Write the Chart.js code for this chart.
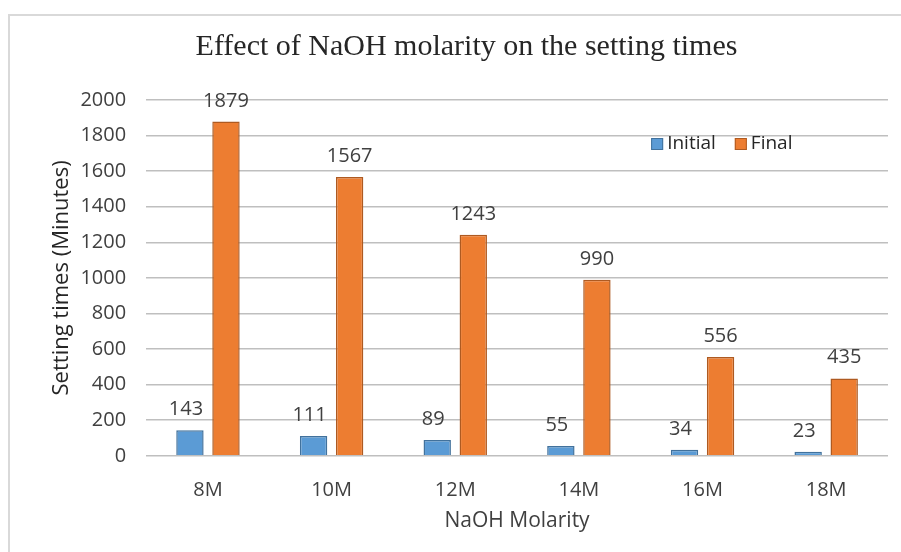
<!DOCTYPE html>
<html lang="en">
<head>
	<meta charset="UTF-8">
	<title>setting times</title>
	<script src="https://cdn.jsdelivr.net/npm/chart.js@4.4.1/dist/chart.umd.min.js"></script>
	<style>
		html,body{margin:0;padding:0;background:#fff;}
		#frame{position:absolute;left:8px;top:14px;width:900px;height:545px;border:2px solid #d9d9d9;box-sizing:border-box;}
		#wrap{position:absolute;left:0;top:0;width:901px;height:552px;}
	</style>
</head>
<body>
	<div id="frame"></div>
	<div id="wrap"><canvas id="chart" width="901" height="552"></canvas></div>

	<script>

		var categories=["8M","10M","12M","14M","16M","18M"];
		var initialTimes=[143,111,89,55,34,23];
		var finalTimes=[1879,1567,1243,990,556,435];
		var seriesNames=["Initial","Final"];

		var sans="'Open Sans', 'Noto Sans', sans-serif";

		// value labels above each bar
		var barLabels={
			id:"barLabels",
			afterDatasetsDraw:function(chart){
				var ctx=chart.ctx;
				ctx.save();
				ctx.font="20px "+sans;
				ctx.fillStyle="#404040";
				ctx.textAlign="center";
				ctx.textBaseline="alphabetic";
				chart.data.datasets.forEach(function(ds,di){
					var meta=chart.getDatasetMeta(di);
					meta.data.forEach(function(bar,i){
						var x=bar.x-(di==0 ? 4 : 0);
						ctx.fillText(ds.data[i],x,bar.y-15);
					});
				});
				ctx.restore();
			}
		};

		// legend inside the plot, top right
		var innerLegend={
			id:"innerLegend",
			afterDraw:function(chart){
				var ctx=chart.ctx,
					area=chart.chartArea;
				var x=area.left+505,
					y=area.top+44;
				ctx.save();
				ctx.font="19px "+sans;
				ctx.textBaseline="middle";
				chart.data.datasets.forEach(function(ds){
					ctx.fillStyle=ds.backgroundColor;
					ctx.strokeStyle=ds.borderColor;
					ctx.lineWidth=1;
					ctx.fillRect(x,y-6,12,12);
					ctx.strokeRect(x+0.5,y-5.5,11,11);
					ctx.fillStyle="#262626";
					ctx.fillText(ds.label,x+16,y);
					x+=16+ctx.measureText(ds.label).width+19;
				});
				ctx.restore();
			}
		};

		new Chart(document.getElementById("chart"),{
			type:"bar",
			data:{
				labels:categories,
				datasets:[{
					label:seriesNames[0],
					data:initialTimes,
					backgroundColor:"#5b9bd5",
					borderColor:"#41719c",
					borderWidth:1.5
				},{
					label:seriesNames[1],
					data:finalTimes,
					backgroundColor:"#ed7d31",
					borderColor:"#ae5a21",
					borderWidth:1.5
				}]
			},
			options:{
				responsive:false,
				animation:false,
				devicePixelRatio:1,
				layout:{padding:{top:29,left:45,right:13,bottom:15}},
				datasets:{bar:{categoryPercentage:0.583,barPercentage:0.76}},
				plugins:{
					legend:{display:false},
					tooltip:{enabled:false},
					title:{
						display:true,
						text:"Effect of NaOH molarity on the setting times",
						color:"#262626",
						font:{family:"'Liberation Serif', 'Times New Roman', serif",size:30,weight:"normal"},
						padding:{top:0,bottom:35}
					}
				},
				scales:{
					x:{
						grid:{display:false},
						border:{display:false},
						ticks:{color:"#404040",font:{family:sans,size:20},padding:14},
						title:{display:true,text:"NaOH Molarity",color:"#404040",font:{family:sans,size:21},padding:{top:-7,bottom:3}}
					},
					y:{
						min:0,
						max:2000,
						ticks:{
							stepSize:200,
							color:"#404040",
							font:{family:sans,size:20},
							padding:20,
							callback:function(v){ return String(v); }
						},
						grid:{color:"#bfbfbf",lineWidth:1.5,drawTicks:false},
						border:{display:false},
						title:{display:true,text:"Setting times (Minutes)",color:"#262626",font:{family:sans,size:22},padding:{top:4,bottom:-15}}
					}
				}
			},
			plugins:[barLabels,innerLegend]
		});

	</script>

</body>
</html>
